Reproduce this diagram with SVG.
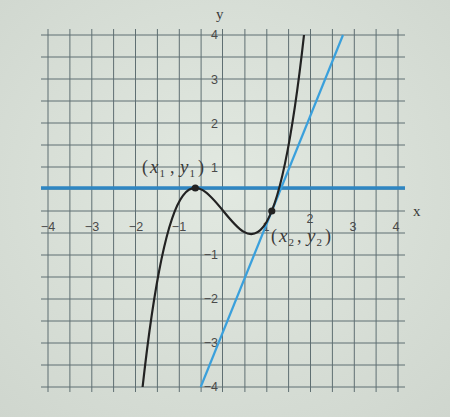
<svg xmlns="http://www.w3.org/2000/svg" width="450" height="417" viewBox="0 0 450 417">
  <defs>
    <radialGradient id="bg" cx="50%" cy="45%" r="75%">
      <stop offset="0" stop-color="#e2e9e1"/>
      <stop offset="1" stop-color="#cfd6ce"/>
    </radialGradient>
  </defs>
  <style>
    .g { stroke: #5f6f72; stroke-width: 1; fill: none; }
    .tk { font-family: "Liberation Sans", Arial, sans-serif; font-size: 12.5px; fill: #4a4a4a; }
    .tx { text-anchor: middle; }
    .ty { text-anchor: end; }
    .lbl { font-family: "Liberation Serif", "Times New Roman", serif; font-size: 18px; fill: #3a3a3a; }
    .it { font-style: italic; font-size: 19px; }
    .sub { font-size: 11px; }
    .ax { font-family: "Liberation Serif", "Times New Roman", serif; font-size: 15px; fill: #3a3a3a; }
  </style>
  <rect width="450" height="417" fill="url(#bg)"/>

  <g id="grid">
    <path class="g" d="M48,29V392 M69.9,29V392 M91.8,29V392 M113.6,29V392 M135.5,29V392 M157.4,29V392 M179.3,29V392 M201.1,29V392 M222.5,29V392 M244.9,29V392 M266.8,29V392 M288.6,29V392 M310.5,29V392 M332.4,29V392 M354.3,29V392 M376.1,29V392 M398,29V392"/>
    <path class="g" d="M41,35H405 M41,57H405 M41,79H405 M41,101H405 M41,123H405 M41,145H405 M41,167H405 M41,189H405 M41,211H405 M41,233H405 M41,255H405 M41,277H405 M41,299H405 M41,321H405 M41,343H405 M41,365H405 M41,387H405"/>
  </g>

  <g id="ticks">
    <text class="tk tx" x="48" y="231">−4</text>
    <text class="tk tx" x="92" y="231">−3</text>
    <text class="tk tx" x="136" y="231">−2</text>
    <text class="tk tx" x="179" y="231">−1</text>
    <text class="tk tx" x="266" y="231">1</text>
    <text class="tk tx" x="310" y="223">2</text>
    <text class="tk tx" x="353" y="231">3</text>
    <text class="tk tx" x="396" y="231">4</text>
    <text class="tk ty" x="218" y="39">4</text>
    <text class="tk ty" x="218" y="84">3</text>
    <text class="tk ty" x="218" y="128">2</text>
    <text class="tk ty" x="218" y="172">1</text>
    <text class="tk ty" x="218" y="259">−1</text>
    <text class="tk ty" x="218" y="303">−2</text>
    <text class="tk ty" x="218" y="347">−3</text>
    <text class="tk ty" x="218" y="391">−4</text>
    <text class="ax" x="216" y="19">y</text>
    <text class="ax" x="413" y="216">x</text>
  </g>

  <g id="connectors">
    <line id="horizontal-tangent" x1="41" y1="188" x2="405" y2="188" stroke="#2f86c2" stroke-width="3.5"/>
    <line id="tangent" x1="200.7" y1="387" x2="343" y2="35" stroke="#3aa0dc" stroke-width="2.2"/>
    <path id="cubic" d="M142.6,387 C196.4,-98.2 250.2,520.2 304,35" fill="none" stroke="#222" stroke-width="2.2"/>
  </g>

  <g id="point1">
    <circle cx="195.3" cy="188" r="3.6" fill="#222"/>
    <text class="lbl" y="173"><tspan x="142">(</tspan><tspan class="it" x="150">x</tspan><tspan class="sub" x="159.5" dy="4">1</tspan><tspan x="170" dy="-4">,</tspan><tspan class="it" x="180">y</tspan><tspan class="sub" x="189.5" dy="4">1</tspan><tspan x="198" dy="-4">)</tspan></text>
  </g>

  <g id="point2">
    <circle cx="271.8" cy="211" r="3.6" fill="#222"/>
    <text class="lbl" y="242"><tspan x="271">(</tspan><tspan class="it" x="279">x</tspan><tspan class="sub" x="288.5" dy="4">2</tspan><tspan x="297" dy="-4">,</tspan><tspan class="it" x="307">y</tspan><tspan class="sub" x="316.5" dy="4">2</tspan><tspan x="325" dy="-4">)</tspan></text>
  </g>
</svg>
